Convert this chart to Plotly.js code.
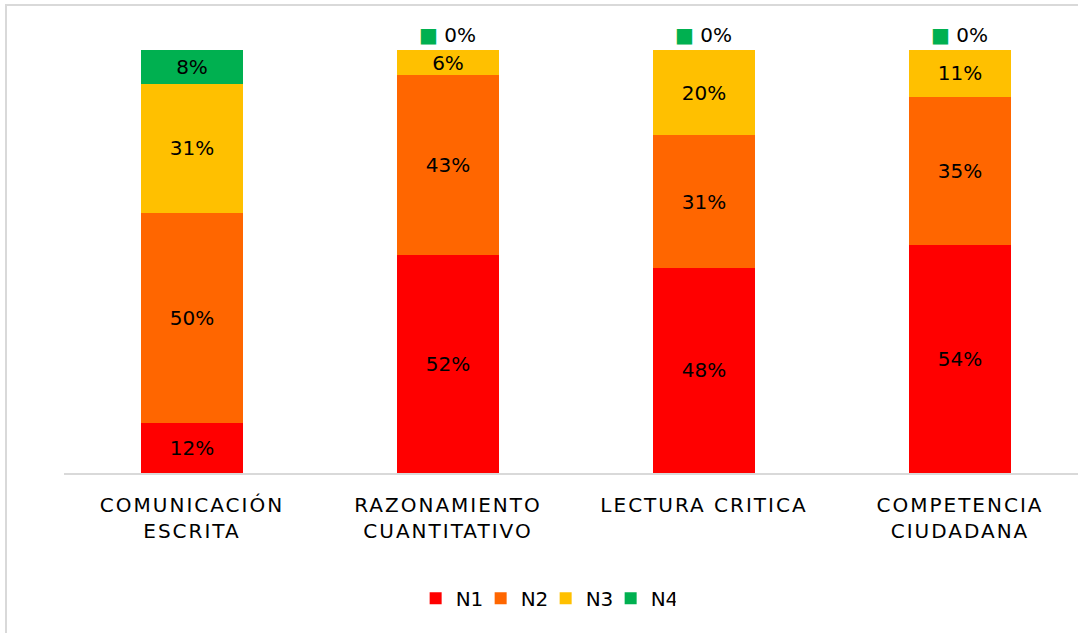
<!DOCTYPE html>
<html>
<head>
<meta charset="utf-8">
<script src="https://cdn.plot.ly/plotly-3.0.1.min.js"></script>
<style>
  html, body { margin: 0; padding: 0; overflow: hidden; background: #fff; }
  #wrap { position: relative; width: 1078px; height: 633px; overflow: hidden; }
  #frame { position: absolute; left: 5px; top: 4px; width: 1200px; height: 800px; border-left: 2px solid #d9d9d9; border-top: 2px solid #d9d9d9; box-sizing: border-box; pointer-events: none; }
  #chart { position: absolute; left: 0; top: 0; width: 1078px; height: 633px; }
  #chart .xtick text { letter-spacing: 2px; }
</style>
</head>
<body>
<div id="wrap">
  <div id="chart"></div>
  <div id="frame"></div>
</div>
<script>
const categories = ["COMUNICACIÓN<br>ESCRITA", "RAZONAMIENTO<br>CUANTITATIVO", "LECTURA CRITICA", "COMPETENCIA<br>CIUDADANA"];
const seriesNames = ["N1", "N2", "N3", "N4"];
const n1 = [12, 52, 48, 54];
const n2 = [50, 43, 31, 35];
const n3 = [31, 6, 20, 11];
const n4 = [8, 0, 0, 0];
const seriesValues = [n1, n2, n3, n4];
const colors = ["#FF0000", "#FF6600", "#FFC000", "#00B050"];

const FONT = "'DejaVu Sans', sans-serif";
const xs = [0, 1, 2, 3];

const traces = seriesValues.map((vals, i) => ({
  type: "bar",
  name: seriesNames[i],
  x: xs,
  y: vals,
  marker: { color: colors[i], line: { width: 0 } },
  text: vals.map(v => v === 0 ? "" : v + "%"),
  textposition: "inside",
  insidetextanchor: "middle",
  constraintext: "none",
  textfont: { family: FONT, size: 20, color: "#000000" },
  hoverinfo: "skip"
}));

const annotations = [];
n4.forEach((v, i) => {
  if (v === 0) {
    annotations.push({
      x: xs[i], xref: "x",
      y: 1.035, yref: "paper",
      text: '<span style="color:' + colors[3] + '">■</span> ' + v + '%',
      showarrow: false,
      font: { family: FONT, size: 20, color: "#000000" },
      xanchor: "center", yanchor: "middle"
    });
  }
});

const layout = {
  width: 1078, height: 633,
  margin: { l: 64, r: 0, t: 50, b: 160 },
  paper_bgcolor: "rgba(0,0,0,0)",
  plot_bgcolor: "rgba(0,0,0,0)",
  barmode: "stack",
  barnorm: "percent",
  bargap: 0.6,
  showlegend: true,
  legend: {
    orientation: "h",
    x: 0.475, xanchor: "center",
    y: -0.296, yanchor: "middle",
    font: { family: FONT, size: 20, color: "#000000" },
    traceorder: "normal",
    itemwidth: 30,
    entrywidth: 20,
    entrywidthmode: "pixels"
  },
  xaxis: {
    range: [-0.5, 3.461],
    tickvals: xs,
    ticktext: categories,
    showline: true, linecolor: "#d9d9d9", linewidth: 2,
    showgrid: false, zeroline: false, ticks: "",
    tickfont: { family: FONT, size: 20, color: "#000000" },
    ticklabelstandoff: 13
  },
  yaxis: {
    range: [0, 100],
    visible: false,
    showgrid: false, zeroline: false
  },
  annotations: annotations,
  font: { family: FONT }
};

Plotly.newPlot("chart", traces, layout, { displayModeBar: false, staticPlot: true });
</script>
</body>
</html>
